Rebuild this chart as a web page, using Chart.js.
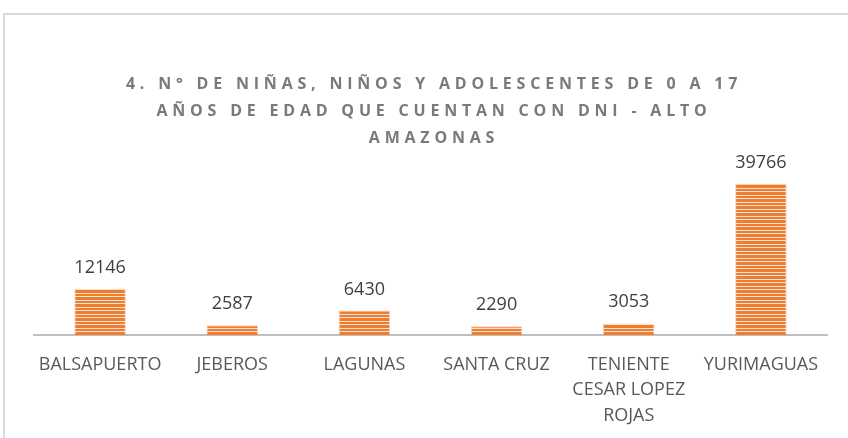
<!doctype html>
<html>
<head>
<title>NNA con DNI - Alto Amazonas</title>
<script src="https://cdn.jsdelivr.net/npm/chart.js@4/dist/chart.umd.min.js"></script>
<style>
	html, body { margin: 0; padding: 0; background: #fff; overflow: hidden; }
	#frame { position: absolute; left: 3px; top: 13px; width: 900px; height: 500px; border: 2px solid #d9d9d9; }
	#holder { position: absolute; left: 0; top: 0; width: 848px; height: 438px; }
</style>
</head>
<body>
<div id="frame"></div>
<div id="holder"><canvas id="chart"></canvas></div>
<script>
const categories = ['BALSAPUERTO', 'JEBEROS', 'LAGUNAS', 'SANTA CRUZ', ['TENIENTE', 'CESAR LOPEZ', 'ROJAS'], 'YURIMAGUAS'];
const values = [12146, 2587, 6430, 2290, 3053, 39766];
const titleLines = [
	'4. N° DE NIÑAS, NIÑOS Y ADOLESCENTES DE 0 A 17',
	'AÑOS DE EDAD QUE CUENTAN CON DNI - ALTO',
	'AMAZONAS'
];

const ctx = document.getElementById('chart').getContext('2d');

// horizontal stripes like the Excel pattern fill
function stripePattern() {
	const c = document.createElement('canvas');
	c.width = 8;
	c.height = 7;
	const g = c.getContext('2d');
	g.fillStyle = '#fbe1cf';
	g.fillRect(0, 0, 8, 7);
	g.fillStyle = '#ed7d31';
	g.fillRect(0, 0, 8, 2);
	g.fillRect(0, 3, 8, 3);
	return ctx.createPattern(c, 'repeat');
}

const titlePlugin = {
	id: 'spacedTitle',
	afterDraw(chart) {
		const c = chart.ctx;
		c.save();
		c.font = 'bold 16px "Open Sans"';
		c.fillStyle = '#7a7a7a';
		c.textAlign = 'center';
		c.textBaseline = 'alphabetic';
		c.letterSpacing = '4.8px';
		titleLines.forEach((line, i) => {
			c.fillText(line, 434, 89 + i * 27);
		});
		c.restore();
	}
};

const valueLabels = {
	id: 'valueLabels',
	afterDatasetsDraw(chart) {
		const c = chart.ctx;
		const meta = chart.getDatasetMeta(0);
		c.save();
		c.font = '18px "Open Sans"';
		c.fillStyle = '#404040';
		c.textAlign = 'center';
		c.textBaseline = 'alphabetic';
		meta.data.forEach((bar, i) => {
			c.fillText(values[i], bar.x, bar.y - 16);
		});
		c.restore();
	}
};

new Chart(ctx, {
	type: 'bar',
	data: {
		labels: categories,
		datasets: [{
			data: values,
			backgroundColor: stripePattern(),
			borderColor: 'rgba(237,125,49,0.35)',
			borderWidth: 1,
			barPercentage: 0.39,
			categoryPercentage: 1
		}]
	},
	options: {
		responsive: true,
		maintainAspectRatio: false,
		animation: false,
		layout: { padding: { left: 34, right: 21, top: 164, bottom: 0 } },
		plugins: {
			legend: { display: false },
			title: { display: false },
			tooltip: { enabled: false }
		},
		scales: {
			x: {
				grid: { display: false, drawTicks: false },
				border: { color: '#bfbfbf', width: 2 },
				ticks: {
					color: '#595959',
					font: { family: '"Open Sans"', size: 18, lineHeight: 1.42 },
					padding: 17,
					maxRotation: 0,
					autoSkip: false
				},
				afterFit(scale) { scale.height = 103; }
			},
			y: {
				display: false,
				min: 0,
				max: 45000
			}
		}
	},
	plugins: [titlePlugin, valueLabels]
});
</script>
</body>
</html>
